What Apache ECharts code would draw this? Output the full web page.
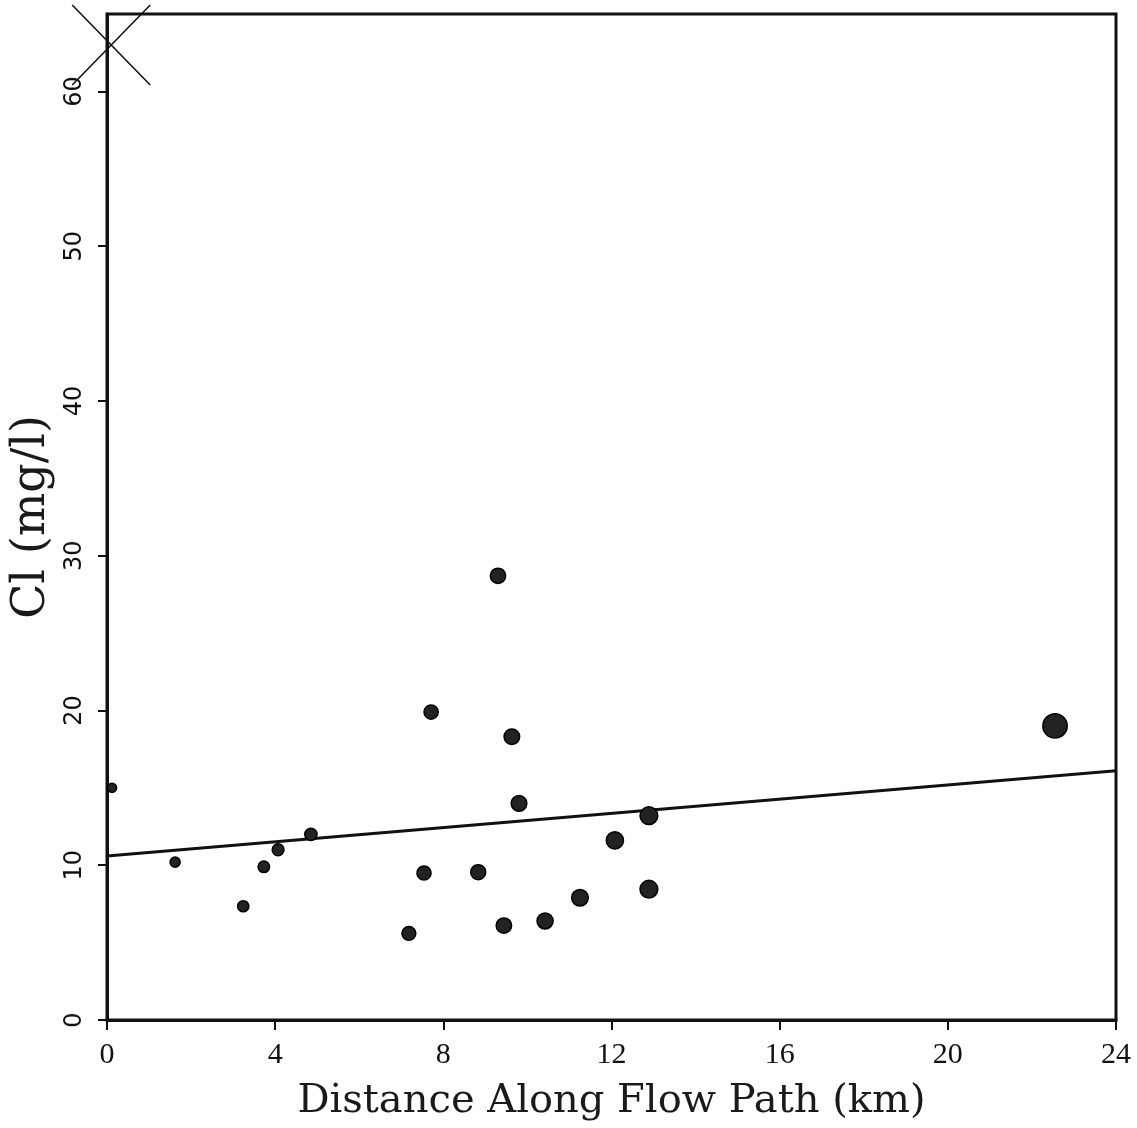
<!DOCTYPE html>
<html><head><meta charset="utf-8">
<script src="https://cdn.jsdelivr.net/npm/echarts@6/dist/echarts.min.js"></script>
<style>html,body{margin:0;padding:0;background:#fff}#c{width:1137px;height:1128px}</style>
</head><body><div id="c"></div>
<script>
// Data
const distanceKm = [0.12, 1.62, 3.24, 3.73, 4.07, 4.85, 7.18, 7.54, 7.71, 8.83, 9.30, 9.44, 9.63, 9.80, 10.42, 11.25, 12.08, 12.89, 12.89, 22.55];
const chlorideMgL = [15.0, 10.2, 7.35, 9.9, 11.0, 12.0, 5.6, 9.5, 19.9, 9.55, 28.7, 6.1, 18.3, 14.0, 6.4, 7.9, 11.6, 8.45, 13.2, 19.0];
const outlierX = [0.1];
const outlierY = [63.0];
const fitX = [0, 24];
const fitY = [10.6, 16.1];
const xTicks = [0, 4, 8, 12, 16, 20, 24];
const yTicks = [0, 10, 20, 30, 40, 50, 60];

const chart = echarts.init(document.getElementById('c'), null, {renderer: 'canvas'});
const serif = 'DejaVu Serif';
chart.setOption({
  animation: false,
  backgroundColor: '#fff',
  grid: {left: 107, right: 21, top: 14, bottom: 108, show: true, borderColor: '#111', borderWidth: 3},
  xAxis: {
    type: 'value', min: 0, max: 24, interval: 4,
    name: 'Distance Along Flow Path (km)', nameLocation: 'middle', nameGap: 62,
    nameTextStyle: {fontFamily: serif, fontSize: 40, color: '#1a1a1a'},
    axisLine: {show: true, lineStyle: {color: '#111', width: 3}},
    axisTick: {show: true, length: 10, lineStyle: {color: '#111', width: 2}},
    axisLabel: {fontFamily: 'Liberation Serif', fontSize: 30, color: '#111', margin: 20,
      formatter: v => xTicks.includes(v) ? String(v) : ''},
    splitLine: {show: false}
  },
  yAxis: {
    type: 'value', min: 0, max: 65, interval: 10,
    name: 'Cl (mg/l)', nameLocation: 'middle', nameGap: 42, nameRotate: 90,
    nameTextStyle: {fontFamily: serif, fontSize: 46, color: '#1a1a1a'},
    axisLine: {show: true, lineStyle: {color: '#111', width: 3}},
    axisTick: {show: true, length: 9, customValues: yTicks, lineStyle: {color: '#111', width: 2}},
    axisLabel: {fontFamily: 'DejaVu Sans', fontSize: 24, color: '#111', rotate: 90, margin: 20,
      customValues: yTicks},
    splitLine: {show: false}
  },
  series: [
    {
      type: 'line', data: fitX.map((x, i) => [x, fitY[i]]),
      symbol: 'none', lineStyle: {color: '#111', width: 3}, z: 3
    },
    {
      type: 'scatter', data: distanceKm.map((x, i) => [x, chlorideMgL[i]]),
      symbolSize: v => 9 + v[0] * 0.68,
      itemStyle: {color: '#222', borderColor: '#000', borderWidth: 1.5, opacity: 1}, z: 4
    },
    {
      type: 'scatter', clip: false, data: outlierX.map((x, i) => [x, outlierY[i]]),
      symbol: 'path://M0,0L1,1M1,0L0,1', symbolSize: [78, 80],
      itemStyle: {color: 'none', borderColor: '#111', borderWidth: 1.6, opacity: 1}, z: 5
    }
  ]
});
</script></body></html>
